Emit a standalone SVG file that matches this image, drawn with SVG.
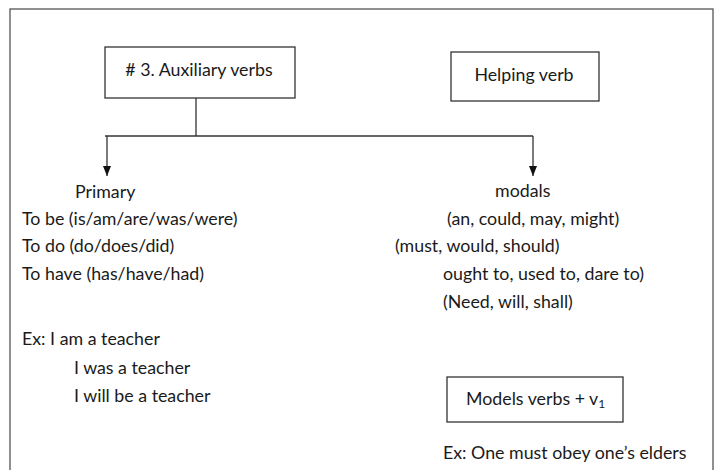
<svg xmlns="http://www.w3.org/2000/svg" width="717" height="470" viewBox="0 0 717 470">
<defs>
<style>
text{font-family:Lato,"Open Sans","Liberation Sans",sans-serif;font-size:17.8px;fill:#1a1a1a}
.box{fill:#fff;stroke:#333;stroke-width:1.3}
.frame{fill:none;stroke:#555;stroke-width:1.3}
.conn{fill:none;stroke:#333;stroke-width:1.3}
</style>
<marker id="arr" markerWidth="10" markerHeight="8" refX="10" refY="4" orient="auto" markerUnits="userSpaceOnUse" viewBox="0 0 10 8">
<path d="M0,0 L10,4 L0,8 Z" fill="#111"/>
</marker>
</defs>
<rect width="717" height="470" fill="#fff"/>
<rect class="frame" x="10" y="9" width="703" height="480"/>
<g id="connectors">
<line class="conn" x1="196" y1="98" x2="196" y2="136"/>
<line class="conn" x1="105" y1="136" x2="533" y2="136"/>
<line class="conn" x1="107" y1="136" x2="107" y2="176" marker-end="url(#arr)"/>
<line class="conn" x1="533" y1="136" x2="533" y2="176" marker-end="url(#arr)"/>
</g>
<g id="auxiliary">
<rect class="box" x="105" y="47" width="190" height="51"/>
<text x="199" y="76" text-anchor="middle">#  3. Auxiliary verbs</text>
</g>
<g id="helping">
<rect class="box" x="451" y="52" width="148" height="49"/>
<text x="524" y="81" text-anchor="middle">Helping verb</text>
</g>
<g id="primary">
<text x="75" y="198">Primary</text>
<text x="22" y="225">To be (is/am/are/was/were)</text>
<text x="22" y="252">To do (do/does/did)</text>
<text x="22" y="280">To have (has/have/had)</text>
<text x="22" y="345">Ex: I am a teacher</text>
<text x="74" y="374">I was a teacher</text>
<text x="74" y="402">I will be a teacher</text>
</g>
<g id="modals">
<text x="495" y="197">modals</text>
<text x="447" y="225">(an, could, may, might)</text>
<text x="395" y="252">(must, would, should)</text>
<text x="443" y="280">ought to, used to, dare to)</text>
<text x="443" y="308">(Need, will, shall)</text>
</g>
<g id="models">
<rect class="box" x="447" y="377" width="176" height="45"/>
<text x="466" y="405">Models verbs + v<tspan font-size="12" dy="3">1</tspan></text>
</g>
<g id="example">
<text x="443" y="459">Ex: One must obey one’s elders</text>
</g>
</svg>
